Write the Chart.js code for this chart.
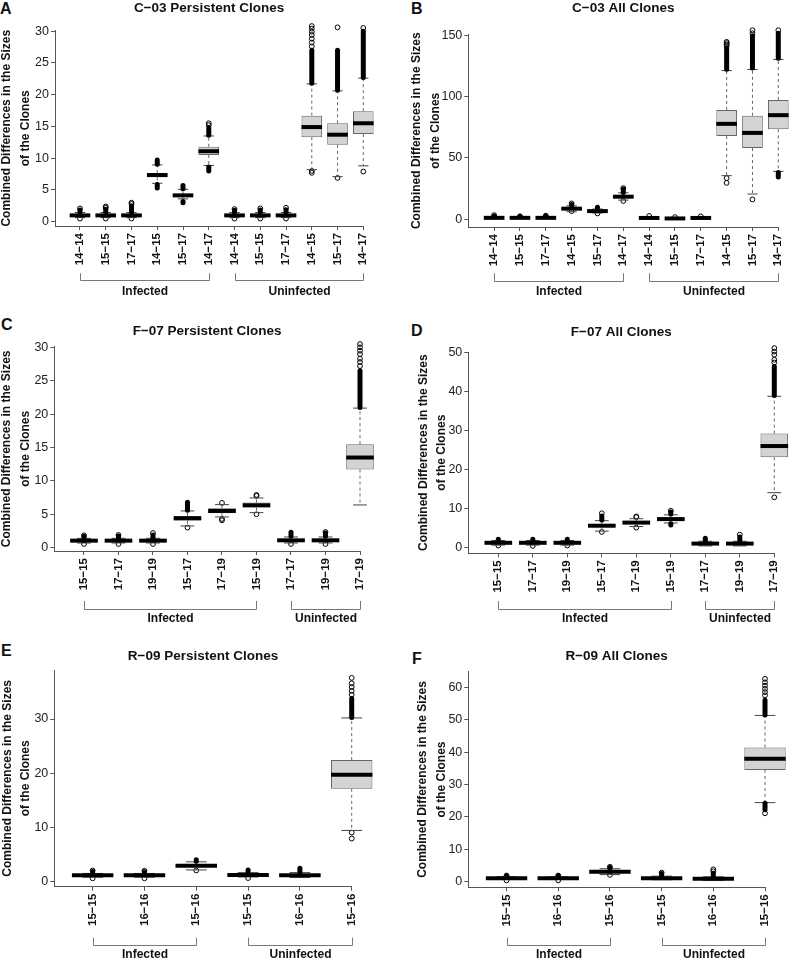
<!DOCTYPE html>
<html lang="en">
<head>
    <meta charset="UTF-8">
    <title>Combined Differences in the Sizes of the Clones</title>
    <script src="https://cdn.jsdelivr.net/npm/chart.js"></script>
    <style>
        body { margin: 0; width: 789px; height: 960px; position: relative; overflow: hidden; background: #fff; }
        canvas { position: absolute; }
        .tag { position: absolute; font: bold 16px/1 "Liberation Sans", Arial, sans-serif; color: #111; }
    </style>
</head>
<body>
    <div class="tag" style="left:0px;top:1px">A</div>
    <div class="tag" style="left:411px;top:1px">B</div>
    <div class="tag" style="left:1px;top:317px">C</div>
    <div class="tag" style="left:411px;top:323px">D</div>
    <div class="tag" style="left:1px;top:643px">E</div>
    <div class="tag" style="left:412px;top:651px">F</div>

    <canvas id="chartA" width="394" height="320" style="left:0px;top:0px"></canvas>
    <canvas id="chartB" width="410" height="320" style="left:395px;top:0px"></canvas>
    <canvas id="chartC" width="394" height="320" style="left:0px;top:320px"></canvas>
    <canvas id="chartD" width="410" height="320" style="left:395px;top:320px"></canvas>
    <canvas id="chartE" width="394" height="320" style="left:0px;top:640px"></canvas>
    <canvas id="chartF" width="410" height="320" style="left:395px;top:640px"></canvas>

    <script>
        // category labels and groups (group = [name, first box, last box])
        const pairsC03 = ['14−14', '15−15', '17−17', '14−15', '15−17', '14−17', '14−14', '15−15', '17−17', '14−15', '15−17', '14−17'];
        const pairsF07 = ['15−15', '17−17', '19−19', '15−17', '17−19', '15−19', '17−17', '19−19', '17−19'];
        const pairsR09 = ['15−15', '16−16', '15−16', '15−15', '16−16', '15−16'];
        const groupsC03 = [['Infected', 1, 6], ['Uninfected', 7, 12]];
        const groupsF07 = [['Infected', 1, 6], ['Uninfected', 7, 9]];
        const groupsR09 = [['Infected', 1, 3], ['Uninfected', 4, 6]];

        // A: C-03 persistent clones
        const rangeA = [-0.67, 30.1];
        const yTicksA = [0, 5, 10, 15, 20, 25, 30];
        const lowA = [0.65, 0.65, 0.65, 6.05, 3.6, 8.85, 0.65, 0.65, 0.65, 8.2, 7.1, 8.8];
        const q1A = [0.88, 0.88, 0.88, 7.0, 3.95, 10.5, 0.88, 0.88, 0.88, 13.3, 12.1, 13.8];
        const medA = [1.0, 1.0, 1.0, 7.35, 4.15, 11.1, 1.0, 1.0, 1.0, 14.9, 13.7, 15.5];
        const q3A = [1.15, 1.15, 1.15, 7.65, 4.3, 11.8, 1.15, 1.15, 1.15, 16.7, 15.5, 17.4];
        const highA = [1.45, 1.45, 1.45, 8.95, 5.1, 13.5, 1.45, 1.45, 1.45, 21.7, 20.6, 22.6];
        const bandUpA = [[1.5, 1.85], [1.5, 1.95], [1.55, 2.5], [9.05, 9.7], [5.2, 5.7], [13.6, 14.8], [1.5, 1.8], [1.5, 1.85], [1.5, 1.9], [21.8, 27.0], [20.7, 27.0], [22.7, 30.0]];
        const bandDownA = [null, null, null, [5.3, 5.85], [3.0, 3.2], [8.0, 8.6], null, null, null, null, null, null];
        const outA = [[2.1, 0.5], [2.2, 2.4, 0.5], [2.8, 3.0, 0.5], [], [], [15.2, 15.5], [2.0, 0.5], [2.1, 0.5], [2.2, 0.5],
            [27.6, 28.2, 28.8, 29.4, 29.9, 30.4, 30.8, 7.7, 8.0], [30.6, 6.9], [30.5, 31.0, 31.5, 31.9, 32.3, 7.9]];

        // B: C-03 all clones
        const rangeB = [-6.5, 151];
        const yTicksB = [0, 50, 100, 150];
        const lowB = [0.3, 0.5, 0.4, 6.0, 5.0, 15.5, 0.2, 0.0, 0.2, 35.5, 20.5, 39.0];
        const q1B = [0.8, 0.85, 0.8, 7.7, 5.9, 17.2, 0.6, 0.3, 0.6, 67.9, 58.1, 73.4];
        const medB = [1.0, 1.0, 1.0, 8.5, 6.5, 18.3, 0.9, 0.5, 0.9, 77.9, 70.5, 85.0];
        const q3B = [1.3, 1.2, 1.3, 9.3, 7.1, 19.5, 1.2, 0.8, 1.2, 89.2, 84.5, 97.4];
        const highB = [1.8, 1.6, 1.8, 10.8, 8.2, 21.5, 1.8, 1.3, 1.7, 121.5, 122.4, 130.6];
        const bandUpB = [[1.9, 2.5], [1.7, 2.0], [1.9, 2.4], [11.0, 12.0], [8.4, 9.6], [21.8, 24.5], null, null, null, [122.5, 140], [123.5, 150], [131.5, 152]];
        const bandDownB = [null, null, null, null, null, null, null, null, null, null, null, [34.5, 38]];
        const outB = [[3.2], [2.3], [2.8], [12.8, 6.5], [4.6], [25.3, 14.8], [2.5], [1.6], [2.2],
            [141.5, 142.8, 144, 145, 33.5, 29.6], [152, 154.5, 157.5, 16.1], [154.5, 157, 159.5, 162, 164.2]];

        // C: F-07 persistent clones
        const rangeC = [-0.5, 30.1];
        const yTicksC = [0, 5, 10, 15, 20, 25, 30];
        const lowC = [0.7, 0.7, 0.7, 3.25, 4.6, 5.25, 0.7, 0.7, 6.4];
        const q1C = [0.9, 0.9, 0.9, 4.05, 5.15, 6.0, 0.9, 0.9, 11.7];
        const medC = [1.05, 1.05, 1.05, 4.4, 5.5, 6.35, 1.1, 1.1, 13.5];
        const q3C = [1.2, 1.2, 1.2, 4.75, 5.9, 6.75, 1.3, 1.3, 15.5];
        const highC = [1.4, 1.4, 1.4, 5.5, 6.45, 7.45, 1.6, 1.6, 20.9];
        const bandUpC = [[1.45, 1.7], [1.45, 1.75], [1.45, 1.9], [5.6, 6.8], null, null, [1.7, 2.3], [1.7, 2.2], [21.0, 26.5]];
        const bandDownC = [null, null, null, null, null, null, null, null, null];
        const outC = [[1.85, 0.55], [1.9, 0.55], [2.2, 0.55], [3.0], [6.7, 4.3, 4.1], [7.75, 7.9, 5.0], [0.55], [2.35, 0.55],
            [27.2, 27.8, 28.3, 29.0, 29.5, 30.0, 30.5, 30.9]];

        // D: F-07 all clones
        const rangeD = [-1.6, 50.2];
        const yTicksD = [0, 10, 20, 30, 40, 50];
        const lowD = [0.5, 0.5, 0.5, 4.1, 5.3, 6.2, 0.3, 0.3, 14.0];
        const q1D = [0.9, 0.9, 0.9, 5.1, 5.9, 6.8, 0.7, 0.7, 23.1];
        const medD = [1.1, 1.1, 1.1, 5.5, 6.3, 7.2, 0.9, 0.9, 26.0];
        const q3D = [1.3, 1.3, 1.3, 5.9, 6.7, 7.6, 1.1, 1.1, 29.2];
        const highD = [1.7, 1.7, 1.7, 6.8, 7.3, 8.3, 1.5, 1.5, 38.8];
        const bandUpD = [[1.8, 2.0], [1.8, 2.0], [1.8, 2.0], [7.0, 8.0], null, [8.5, 9.0], [1.6, 2.3], [1.6, 2.6], [39.0, 46.5]];
        const bandDownD = [null, null, null, null, null, [5.7, 6.0], null, null, null];
        const outD = [[0.4], [0.3], [0.4], [8.7, 3.9], [7.7, 7.9, 5.0], [9.35], [], [3.2],
            [47.5, 48.2, 49.5, 50.3, 51.2, 52.2, 12.8]];

        // E: R-09 persistent clones
        const rangeE = [-1.0, 39.06];
        const yTicksE = [0, 10, 20, 30];
        const lowE = [0.75, 0.75, 2.1, 0.8, 0.7, 9.4];
        const q1E = [0.95, 0.95, 2.65, 1.0, 0.9, 17.1];
        const medE = [1.1, 1.1, 2.85, 1.15, 1.1, 19.7];
        const q3E = [1.25, 1.25, 3.05, 1.3, 1.3, 22.4];
        const highE = [1.45, 1.45, 3.6, 1.6, 1.6, 30.2];
        const bandUpE = [[1.5, 1.8], [1.5, 1.75], [3.7, 4.0], [1.7, 2.1], [1.7, 2.4], [30.3, 33.8]];
        const bandDownE = [null, null, null, null, null, null];
        const outE = [[2.0, 0.55], [1.95, 0.55], [2.0], [0.6], [], [34.5, 35.2, 35.9, 36.6, 37.6, 9.0, 7.9]];

        // F: R-09 all clones
        const rangeF = [-1.73, 64.8];
        const yTicksF = [0, 10, 20, 30, 40, 50, 60];
        const lowF = [0.7, 0.7, 2.2, 0.6, 0.4, 24.4];
        const q1F = [0.9, 0.9, 2.8, 0.85, 0.7, 34.5];
        const medF = [1.05, 1.05, 3.1, 1.05, 0.9, 37.9];
        const q3F = [1.25, 1.25, 3.4, 1.3, 1.1, 41.4];
        const highF = [1.5, 1.5, 4.0, 1.7, 1.5, 51.3];
        const bandUpF = [[1.6, 1.8], [1.6, 1.8], [4.1, 4.4], [1.8, 2.5], [1.6, 2.6], [51.4, 56.0]];
        const bandDownF = [null, null, null, null, null, [22.2, 24.2]];
        const outF = [[1.9, 0.4], [1.9, 0.4], [4.6, 2.1], [2.8], [3.2, 3.8], [57.5, 58.5, 59.5, 60.5, 61.5, 62.6, 21.1]];

        const FONT = '"Liberation Sans", Arial, Helvetica, sans-serif';
        Chart.defaults.font.family = FONT;

        const panels = [
            { id: 'chartA', title: 'C−03 Persistent Clones', labels: pairsC03, groups: groupsC03, range: rangeA, yTicks: yTicksA,
              low: lowA, q1: q1A, med: medA, q3: q3A, high: highA, bandUp: bandUpA, bandDown: bandDownA, out: outA,
              geo: { w: 394, left: 55, right: 363.3, top: 30.5, bottom: 226, titleY: 8.3, ylabX: 6.7, xMin: 0.03, bracketTop: 273.3, bracketY: 280, groupY: 292 } },
            { id: 'chartB', title: 'C−03 All Clones', labels: pairsC03, groups: groupsC03, range: rangeB, yTicks: yTicksB,
              low: lowB, q1: q1B, med: medB, q3: q3B, high: highB, bandUp: bandUpB, bandDown: bandDownB, out: outB,
              geo: { w: 410, left: 73.3, right: 383.3, top: 34.5, bottom: 227, titleY: 8.3, ylabX: 21.7, xMin: 0, bracketTop: 273.3, bracketY: 281, groupY: 292 } },
            { id: 'chartC', title: 'F−07 Persistent Clones', labels: pairsF07, groups: groupsF07, range: rangeC, yTicks: yTicksC,
              low: lowC, q1: q1C, med: medC, q3: q3C, high: highC, bandUp: bandUpC, bandDown: bandDownC, out: outC,
              geo: { w: 394, left: 54.3, right: 360, top: 26.7, bottom: 231, titleY: 11.7, ylabX: 7, xMin: 0.14, bracketTop: 281, bracketY: 289, groupY: 299 } },
            { id: 'chartD', title: 'F−07 All Clones', labels: pairsF07, groups: groupsF07, range: rangeD, yTicks: yTicksD,
              low: lowD, q1: q1D, med: medD, q3: q3D, high: highD, bandUp: bandUpD, bandDown: bandDownD, out: outD,
              geo: { w: 410, left: 73.3, right: 379.3, top: 32, bottom: 233.3, titleY: 12.3, ylabX: 28.3, xMin: 0.13, bracketTop: 281, bracketY: 289, groupY: 299 } },
            { id: 'chartE', title: 'R−09 Persistent Clones', labels: pairsR09, groups: groupsR09, range: rangeE, yTicks: yTicksE,
              low: lowE, q1: q1E, med: medE, q3: q3E, high: highE, bandUp: bandUpE, bandDown: bandDownE, out: outE,
              geo: { w: 394, left: 54.3, right: 351.7, top: 30, bottom: 246.7, titleY: 16.7, ylabX: 7.3, xMin: 0.26, bracketTop: 297.7, bracketY: 305, groupY: 315 } },
            { id: 'chartF', title: 'R−09 All Clones', labels: pairsR09, groups: groupsR09, range: rangeF, yTicks: yTicksF,
              low: lowF, q1: q1F, med: medF, q3: q3F, high: highF, bandUp: bandUpF, bandDown: bandDownF, out: outF,
              geo: { w: 410, left: 73.3, right: 370, top: 31.7, bottom: 247.3, titleY: 16, ylabX: 28, xMin: 0.26, bracketTop: 297.7, bracketY: 305, groupY: 315 } },
        ];

        const H = 320;

        function seg(ctx, x1, y1, x2, y2) {
            ctx.beginPath();
            ctx.moveTo(x1, y1);
            ctx.lineTo(x2, y2);
            ctx.stroke();
        }

        // whiskers, staples, medians and dense outlier runs
        function boxParts(p) {
            return {
                id: 'boxParts',
                afterDatasetsDraw(chart) {
                    const { ctx, scales: { x, y } } = chart;
                    const bars = chart.getDatasetMeta(1).data;
                    const py = v => y.getPixelForValue(v);
                    ctx.save();
                    p.med.forEach((m, i) => {
                        const cx = x.getPixelForValue(i + 1);
                        const half = bars[i].width / 2;
                        ctx.lineCap = 'butt';
                        ctx.strokeStyle = '#666';
                        ctx.lineWidth = 1;
                        ctx.setLineDash([3, 3]);
                        seg(ctx, cx, py(p.q3[i]), cx, py(p.high[i]));
                        seg(ctx, cx, py(p.q1[i]), cx, py(p.low[i]));
                        ctx.setLineDash([]);
                        ctx.strokeStyle = '#444';
                        seg(ctx, cx - half / 2, py(p.high[i]), cx + half / 2, py(p.high[i]));
                        seg(ctx, cx - half / 2, py(p.low[i]), cx + half / 2, py(p.low[i]));
                        ctx.strokeStyle = '#000';
                        ctx.lineWidth = 4;
                        seg(ctx, cx - half, py(m), cx + half, py(m));
                        ctx.lineWidth = 5;
                        ctx.lineCap = 'round';
                        [p.bandUp[i], p.bandDown[i]].forEach(b => {
                            if (b) seg(ctx, cx, py(b[0]), cx, py(b[1]));
                        });
                    });
                    ctx.restore();
                }
            };
        }

        // Infected / Uninfected brackets under the tick labels
        function brackets(p) {
            return {
                id: 'brackets',
                afterDraw(chart) {
                    const { ctx, scales: { x } } = chart;
                    const g = p.geo;
                    ctx.save();
                    ctx.strokeStyle = '#777';
                    ctx.lineWidth = 1;
                    ctx.fillStyle = '#111';
                    ctx.font = 'bold 12px ' + FONT;
                    ctx.textAlign = 'center';
                    ctx.textBaseline = 'middle';
                    p.groups.forEach(([name, a, b]) => {
                        const x1 = Math.round(x.getPixelForValue(a)) + 0.5;
                        const x2 = Math.round(x.getPixelForValue(b)) + 0.5;
                        ctx.beginPath();
                        ctx.moveTo(x1, g.bracketTop);
                        ctx.lineTo(x1, g.bracketY + 0.5);
                        ctx.lineTo(x2, g.bracketY + 0.5);
                        ctx.lineTo(x2, g.bracketTop);
                        ctx.stroke();
                        ctx.fillText(name, (x1 + x2) / 2, g.groupY);
                    });
                    ctx.restore();
                }
            };
        }

        function drawPanel(p) {
            const g = p.geo;
            const n = p.labels.length;
            const boxes = p.q1.map((v, i) => ({ x: i + 1, y: [v, p.q3[i]] }));
            const outliers = p.out.flatMap((vals, i) => vals.map(v => ({ x: i + 1, y: v })));
            const titleTop = g.titleY - 8.1;

            new Chart(document.getElementById(p.id), {
                type: 'bar',
                data: {
                    datasets: [
                        {
                            type: 'scatter',
                            data: outliers,
                            pointRadius: 2.4,
                            pointBorderWidth: 1,
                            pointBorderColor: '#000',
                            pointBackgroundColor: 'rgba(0,0,0,0)',
                            clip: false,
                        },
                        {
                            type: 'bar',
                            data: boxes,
                            backgroundColor: '#d3d3d3',
                            borderColor: '#666',
                            borderWidth: 1,
                            borderSkipped: false,
                            barPercentage: 0.8,
                            categoryPercentage: 1,
                            clip: false,
                        },
                    ],
                },
                options: {
                    responsive: false,
                    animation: false,
                    events: [],
                    layout: { padding: { left: 0, top: 0, bottom: 0, right: g.w - g.right } },
                    plugins: {
                        legend: { display: false },
                        tooltip: { enabled: false },
                        title: {
                            display: true,
                            text: p.title,
                            fullSize: false,
                            color: '#111',
                            font: { size: 13.5, weight: 'bold', lineHeight: 1.2 },
                            padding: { top: titleTop, bottom: g.top - 16.2 - titleTop },
                        },
                    },
                    scales: {
                        x: {
                            type: 'linear',
                            min: g.xMin,
                            max: n,
                            offset: false,
                            afterBuildTicks: s => { s.ticks = p.labels.map((_, i) => ({ value: i + 1 })); },
                            afterFit: s => { s.height = H - g.bottom; },
                            grid: { drawOnChartArea: false, tickLength: 4, color: '#555', offset: false },
                            border: { display: true, color: '#555', width: 1 },
                            ticks: {
                                autoSkip: false,
                                minRotation: 90,
                                maxRotation: 90,
                                padding: 3,
                                color: '#111',
                                font: { size: 11.5, weight: 'bold' },
                                callback: (v, i) => p.labels[i],
                            },
                        },
                        y: {
                            type: 'linear',
                            min: p.range[0],
                            max: p.range[1],
                            afterBuildTicks: s => { s.ticks = p.yTicks.map(v => ({ value: v })); },
                            afterFit: s => { s.width = g.left; },
                            grid: { drawOnChartArea: false, tickLength: 4, color: '#555' },
                            border: { display: true, color: '#555', width: 1 },
                            ticks: { padding: 2, color: '#222', font: { size: 12.5 } },
                            title: {
                                display: true,
                                text: ['Combined Differences in the Sizes', 'of the Clones'],
                                color: '#111',
                                font: { size: 12, weight: 'bold', lineHeight: 1.55 },
                                padding: { top: g.ylabX - 9.3, bottom: 0 },
                            },
                        },
                    },
                },
                plugins: [boxParts(p), brackets(p)],
            });
        }

        panels.forEach(drawPanel);
    </script>
</body>
</html>
